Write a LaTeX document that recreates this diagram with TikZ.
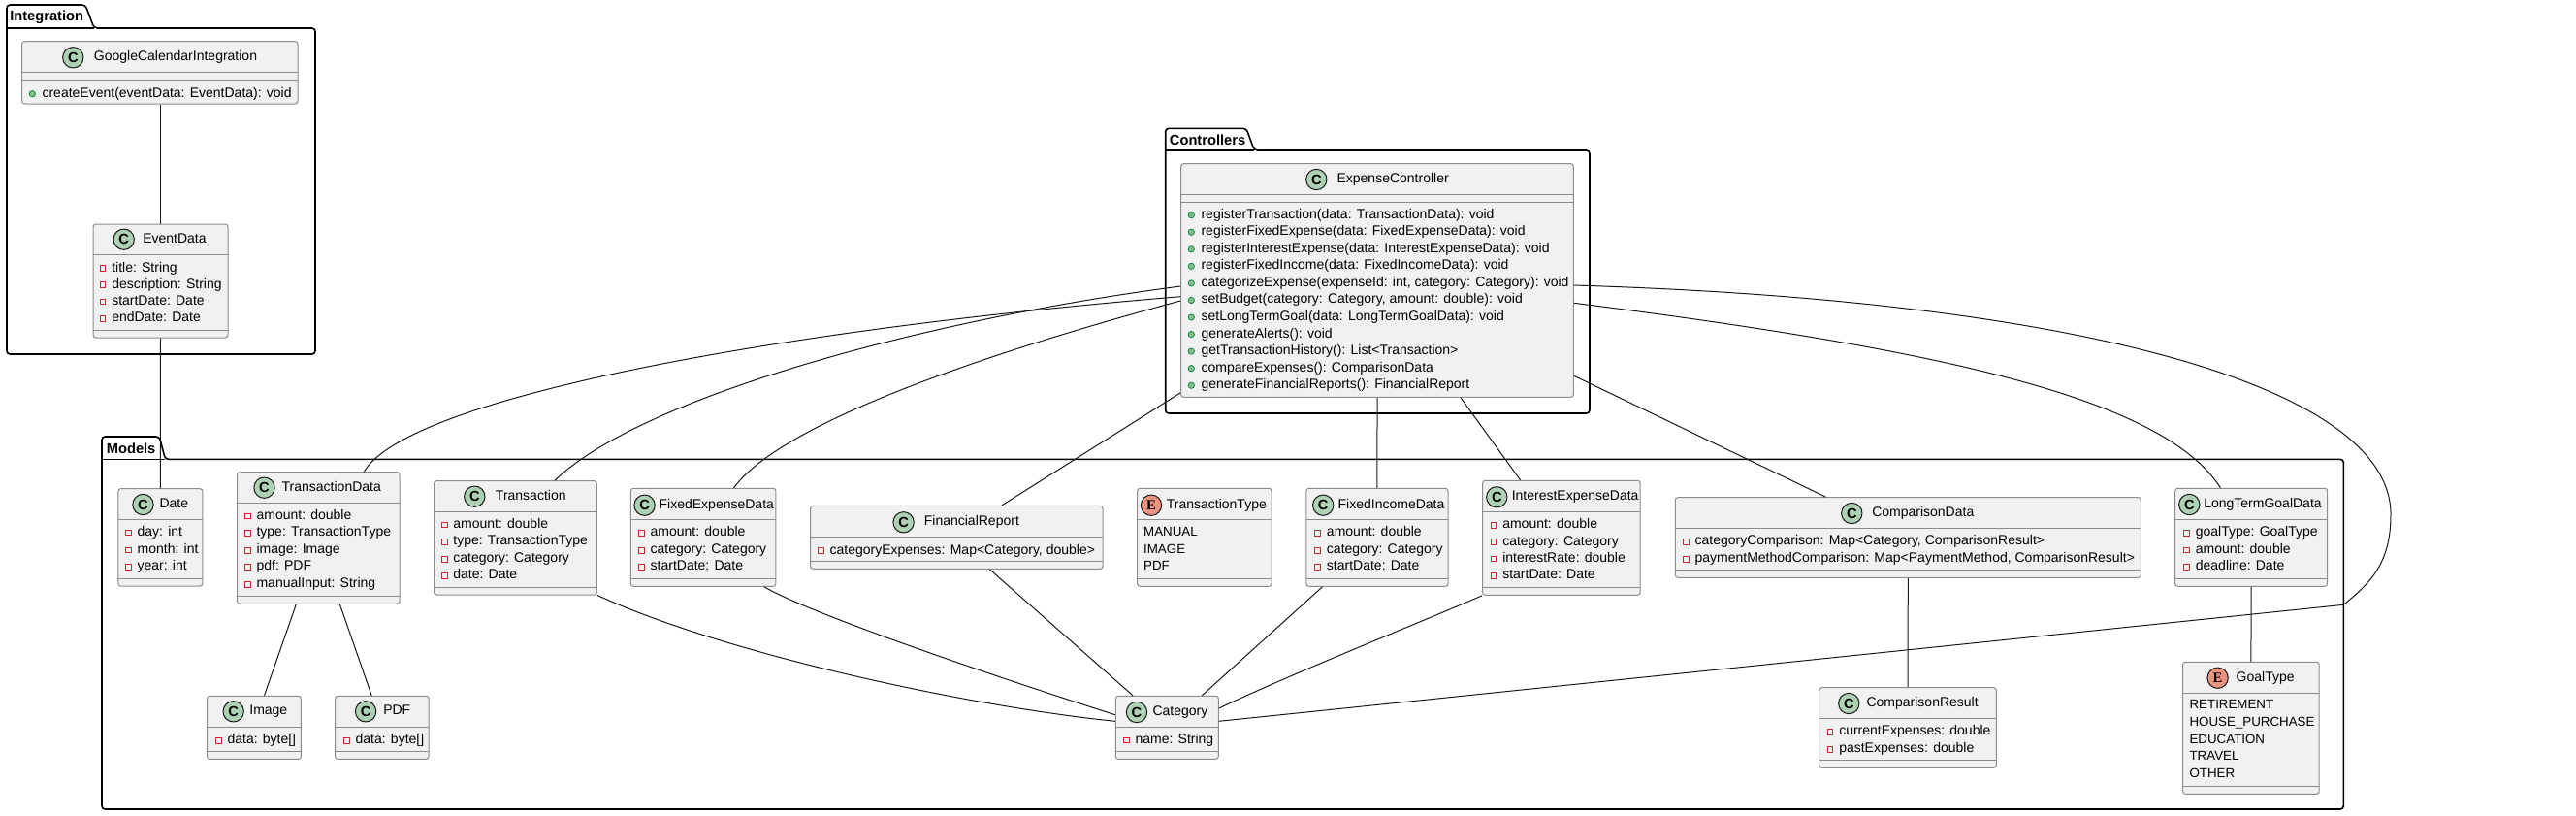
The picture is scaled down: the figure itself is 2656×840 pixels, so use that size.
\documentclass[tikz,border=0pt]{standalone}
\usepackage{fontspec}
\setmainfont{Liberation Sans}
\newfontfamily\cfont{Liberation Sans}
\newfontfamily\efont{Liberation Serif}
\usetikzlibrary{fit,calc}
\definecolor{clsfill}{HTML}{F1F1F1}
\definecolor{clsline}{HTML}{8C8C8C}
\definecolor{ciconfill}{HTML}{ADD1B2}
\definecolor{eiconfill}{HTML}{EB937F}
\definecolor{privred}{HTML}{C82930}
\definecolor{pubfill}{HTML}{84BE84}
\definecolor{publine}{HTML}{038048}
\definecolor{edgecol}{HTML}{181818}

\newcommand\clsbox[7]{%
  \node[cls, fit={(#2,#3)(#4,#5)}] (#1) {};
  \draw[sepline] (#2,#6) -- (#4,#6);
  \draw[sepline] (#2,#7) -- (#4,#7);}
% name, icon style, letter, icon x, name x, y, text
\newcommand\hdr[7]{%
  \node[#2] (#1i) at (#4,#6) {#3};
  \node[txt] (#1n) at (#5,#6) {#7};}
\newcommand\privrow[4]{%
  \node[privsq] (#1s) at ({#2-9},#3) {};
  \node[txt] (#1) at (#2,#3) {#4};}
\newcommand\pubrow[4]{%
  \node[pubdot] (#1s) at ({#2-10},#3) {};
  \node[txt] (#1) at (#2,#3) {#4};}
\newcommand\plainrow[4]{\node[txt, font=\fontsize{10}{12}\selectfont] (#1) at (#2,#3) {#4};}

\begin{document}
\begin{tikzpicture}[x=0.75pt,y=-0.75pt,
  cls/.style={draw=clsline, fill=clsfill, line width=0.75pt, rounded corners=2pt, inner sep=0pt},
  sepline/.style={draw=clsline, line width=0.75pt},
  txt/.style={anchor=west, inner sep=0pt, font=\fontsize{10.5}{12}\selectfont, text height=7.5pt, text depth=2.2pt},
  cic/.style={circle, draw=edgecol, fill=ciconfill, line width=0.75pt, minimum size=16pt, inner sep=0pt, font=\cfont\bfseries\fontsize{11}{11}\selectfont},
  eic/.style={circle, draw=edgecol, fill=eiconfill, line width=0.75pt, minimum size=16pt, inner sep=0pt, font=\efont\bfseries\fontsize{11}{11}\selectfont},
  privsq/.style={rectangle, draw=privred, line width=0.75pt, minimum size=4.4pt, inner sep=0pt},
  pubdot/.style={circle, draw=publine, fill=pubfill, line width=0.5pt, minimum size=4.8pt, inner sep=0pt},
  pkg/.style={draw=black, line width=1.2pt, rounded corners=2.5pt},
  pkgtitle/.style={anchor=west, inner sep=0pt, font=\bfseries\fontsize{11}{12}\selectfont},
  conn/.style={draw=edgecol, line width=0.75pt}]

\fill[white] (0,0) rectangle (2656,840);
\useasboundingbox (0,0) rectangle (2656,840);

% ---------------- packages
\draw[pkg] (7,365) -- (7,5) -- (88,5) -- (97,29) -- (325,29) -- (325,365) -- cycle;
\draw[pkg] (7,29) -- (97,29);
\node[pkgtitle] (intT) at (10,17.7) {Integration};

\draw[pkg] (1201.7,426) -- (1201.7,132.3) -- (1285,132.3) -- (1293.3,155) -- (1639,155) -- (1639,426) -- cycle;
\draw[pkg] (1201.7,155) -- (1293.3,155);
\node[pkgtitle] (conT) at (1205.7,144) {Controllers};

\draw[pkg] (105,834) -- (105,450) -- (164.3,450) -- (170.4,473.3) -- (2416.3,473.3) -- (2416.3,834) -- cycle;
\draw[pkg] (105,473.3) -- (170.4,473.3);
\node[pkgtitle] (modT) at (109.6,462.3) {Models};

% ---------------- Integration
\clsbox{GCI}{22.7}{42.7}{307}{107}{74.7}{82}
\hdr{GCI}{cic}{C}{75.3}{96.7}{59.3}{GoogleCalendarIntegration}
\pubrow{GCIm1}{43.3}{96.7}{createEvent(eventData: EventData): void}

\clsbox{ED}{96}{231}{235}{348}{262.7}{340}
\hdr{ED}{cic}{C}{127.7}{147}{246.7}{EventData}
\privrow{EDa1}{115}{276.7}{title: String}
\privrow{EDa2}{115}{293.7}{description: String}
\privrow{EDa3}{115}{311}{startDate: Date}
\privrow{EDa4}{115}{328.3}{endDate: Date}

% ---------------- Controllers
\clsbox{EC}{1217.7}{168.7}{1622.3}{409.3}{200.3}{208.3}
\hdr{EC}{cic}{C}{1357.3}{1378.3}{185}{ExpenseController}
\pubrow{ECm1}{1238.3}{221.7}{registerTransaction(data: TransactionData): void}
\pubrow{ECm2}{1238.3}{239.25}{registerFixedExpense(data: FixedExpenseData): void}
\pubrow{ECm3}{1238.3}{256.8}{registerInterestExpense(data: InterestExpenseData): void}
\pubrow{ECm4}{1238.3}{274.35}{registerFixedIncome(data: FixedIncomeData): void}
\pubrow{ECm5}{1238.3}{291.9}{categorizeExpense(expenseId: int, category: Category): void}
\pubrow{ECm6}{1238.3}{309.45}{setBudget(category: Category, amount: double): void}
\pubrow{ECm7}{1238.3}{327}{setLongTermGoal(data: LongTermGoalData): void}
\pubrow{ECm8}{1238.3}{344.55}{generateAlerts(): void}
\pubrow{ECm9}{1238.3}{362.1}{getTransactionHistory(): List<Transaction>}
\pubrow{ECm10}{1238.3}{379.65}{compareExpenses(): ComparisonData}
\pubrow{ECm11}{1238.3}{397.2}{generateFinancialReports(): FinancialReport}

% ---------------- Models
\clsbox{Date}{121.8}{503.7}{208.9}{604}{535.7}{596.3}
\hdr{Date}{cic}{C}{147.5}{164.3}{520}{Date}
\privrow{Datea1}{141.4}{549}{day: int}
\privrow{Datea2}{141.4}{567}{month: int}
\privrow{Datea3}{141.4}{584.3}{year: int}

\clsbox{TD}{244.6}{486.7}{412.1}{622.3}{518.3}{614}
\hdr{TD}{cic}{C}{272.5}{290.4}{502.7}{TransactionData}
\privrow{TDa1}{264.3}{532}{amount: double}
\privrow{TDa2}{264.3}{549.3}{type: TransactionType}
\privrow{TDa3}{264.3}{567.3}{image: Image}
\privrow{TDa4}{264.3}{584.3}{pdf: PDF}
\privrow{TDa5}{264.3}{602.3}{manualInput: String}

\clsbox{Tr}{447.5}{495.7}{615.4}{613}{527.7}{605}
\hdr{Tr}{cic}{C}{489.3}{510.7}{511.7}{Transaction}
\privrow{Tra1}{467.1}{541}{amount: double}
\privrow{Tra2}{467.1}{558.3}{type: TransactionType}
\privrow{Tra3}{467.1}{576.3}{category: Category}
\privrow{Tra4}{467.1}{593.3}{date: Date}

\clsbox{Img}{213.6}{717.3}{310.4}{782.3}{749.3}{774.3}
\hdr{Img}{cic}{C}{240.7}{257.1}{733.3}{Image}
\privrow{Imga1}{234.3}{763.3}{data: byte[]}

\clsbox{PDF}{345.7}{717.3}{442.1}{782.3}{749.3}{774.3}
\hdr{PDF}{cic}{C}{377.1}{395}{733.3}{PDF}
\privrow{PDFa1}{366.4}{763.3}{data: byte[]}

\clsbox{FED}{650.4}{503.3}{799.9}{604.3}{535.3}{596.7}
\hdr{FED}{cic}{C}{664.6}{679.4}{520.7}{FixedExpenseData}
\privrow{FEDa1}{670.4}{549.3}{amount: double}
\privrow{FEDa2}{670.4}{567.3}{category: Category}
\privrow{FEDa3}{670.4}{584.3}{startDate: Date}

\clsbox{FR}{835.6}{521.3}{1137}{586.3}{553.3}{578.3}
\hdr{FR}{cic}{C}{931.6}{952.6}{538.3}{FinancialReport}
\privrow{FRa1}{855.3}{567.7}{categoryExpenses: Map<Category, double>}

\clsbox{TT}{1172.7}{503.3}{1311}{604.3}{535.3}{596.7}
\hdr{TT}{eic}{E}{1187}{1202.6}{520.7}{TransactionType}
\plainrow{TTv1}{1178.9}{549.3}{MANUAL}
\plainrow{TTv2}{1178.9}{567.3}{IMAGE}
\plainrow{TTv3}{1178.9}{584.3}{PDF}

\clsbox{FID}{1346.9}{503.3}{1493}{604.3}{535.3}{596.7}
\hdr{FID}{cic}{C}{1364.2}{1379.4}{520.7}{FixedIncomeData}
\privrow{FIDa1}{1367.7}{549.3}{amount: double}
\privrow{FIDa2}{1367.7}{567.3}{category: Category}
\privrow{FIDa3}{1367.7}{584.3}{startDate: Date}

\clsbox{IED}{1528.6}{495.3}{1691.2}{613.3}{527.3}{605.3}
\hdr{IED}{cic}{C}{1543.3}{1558.5}{512.3}{InterestExpenseData}
\privrow{IEDa1}{1549}{541.3}{amount: double}
\privrow{IEDa2}{1549}{558.7}{category: Category}
\privrow{IEDa3}{1549}{576}{interestRate: double}
\privrow{IEDa4}{1549}{593.3}{startDate: Date}

\clsbox{CD}{1727.3}{512.7}{2207.3}{595.3}{544}{587.3}
\hdr{CD}{cic}{C}{1909.3}{1930}{529}{ComparisonData}
\privrow{CDa1}{1747.3}{558.3}{categoryComparison: Map<Category, ComparisonResult>}
\privrow{CDa2}{1747.3}{576.3}{paymentMethodComparison: Map<PaymentMethod, ComparisonResult>}

\clsbox{CR}{1875.7}{708.7}{2058.3}{791.3}{740.3}{783.7}
\hdr{CR}{cic}{C}{1906.3}{1924.3}{725}{ComparisonResult}
\privrow{CRa1}{1896}{754.3}{currentExpenses: double}
\privrow{CRa2}{1896}{772.3}{pastExpenses: double}

\clsbox{LTGD}{2242.7}{503.3}{2399.6}{604.3}{535.3}{596.7}
\hdr{LTGD}{cic}{C}{2257.3}{2272}{520}{LongTermGoalData}
\privrow{LTGDa1}{2263.6}{549.3}{goalType: GoalType}
\privrow{LTGDa2}{2263.6}{567}{amount: double}
\privrow{LTGDa3}{2263.6}{584.3}{deadline: Date}

\clsbox{GT}{2250.6}{682.3}{2391.2}{818.3}{714.3}{810.3}
\hdr{GT}{eic}{E}{2286.6}{2305.4}{698.7}{GoalType}
\plainrow{GTv1}{2257.3}{726.7}{RETIREMENT}
\plainrow{GTv2}{2257.3}{745}{HOUSE\_PURCHASE}
\plainrow{GTv3}{2257.3}{763.3}{EDUCATION}
\plainrow{GTv4}{2257.3}{780}{TRAVEL}
\plainrow{GTv5}{2257.3}{798.3}{OTHER}

\clsbox{Cat}{1150.3}{717.3}{1256.3}{782.3}{749.3}{774}
\hdr{Cat}{cic}{C}{1172}{1188.3}{734}{Category}
\privrow{Cata1}{1170.3}{763}{name: String}

% ---------------- connectors
\draw[conn] (GCI.south -| ED.north) -- (ED.north);
\draw[conn] (ED.south) -- (Date.north);

\draw[conn] ($(EC.west)+(0,16.7)$) .. controls (800,340) and (420,410) .. ($(TD.north)+(47,0)$);
\draw[conn] ($(EC.west)+(0,6)$) .. controls (950,330) and (660,410) .. ($(Tr.north)+(40.6,0)$);
\draw[conn] ($(EC.west)+(0,21)$) .. controls (1050,355) and (810,430) .. ($(FED.north)+(31.4,0)$);
\draw[conn] ($(EC.south west)+(0,-5)$) -- ($(FR.north)+(46.7,0)$);
\draw[conn] (EC.south) -- (FID.north);
\draw[conn] ($(EC.south)+(86,0)$) -- ($(IED.north)+(-42.3,0)$);
\draw[conn] ($(EC.east)+(0,98.3)$) -- ($(CD.north)+(-84.8,0)$);
\draw[conn] ($(EC.east)+(0,23.3)$) .. controls (2000,360) and (2230,410) .. ($(LTGD.north)+(-31.7,0)$);
\coordinate (mexit) at (2416.3,623.3);
\draw[conn] ($(EC.east)+(0,5)$) .. controls (2150,310) and (2465,400) .. (2465,530)
  .. controls (2465,580) and (2445,600) .. (mexit) -- ($(Cat.east)+(0,-6.5)$);

\draw[conn] ($(TD.south)+(-23,0)$) -- ($(Img.north)+(10.5,0)$);
\draw[conn] ($(TD.south)+(22,0)$) -- ($(PDF.north)+(-10.7,0)$);
\draw[conn] (Tr.south east) .. controls (750,675) and (1000,728) .. ($(Cat.west)+(0,-6.5)$);
\draw[conn] ($(FED.south)+(62.7,0)$) .. controls (840,635) and (1050,705) .. ($(Cat.west)+(0,-13.1)$);
\draw[conn] ($(FR.south)+(34.1,0)$) -- ($(Cat.north)+(-35.3,0)$);
\draw[conn] ($(FID.south)+(-56.5,0)$) -- ($(Cat.north)+(36,0)$);
\draw[conn] (IED.south west) .. controls (1480,635) and (1330,695) .. ($(Cat.east)+(0,-19.8)$);
\draw[conn] (CD.south) -- (CR.north);
\draw[conn] (LTGD.south) -- (GT.north);
\end{tikzpicture}
\end{document}
